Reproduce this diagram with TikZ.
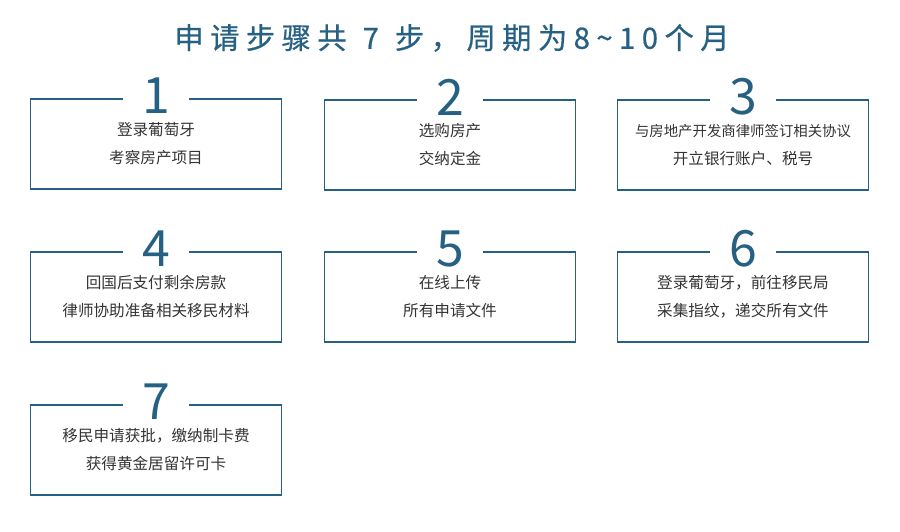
\documentclass[tikz,border=0pt]{standalone}
\usepackage{fontspec}
\setmainfont{Noto Sans CJK SC}
\newfontfamily\cjk{Noto Sans CJK SC}
\newfontfamily\titlefont[LetterSpace=22,FakeBold=0.6]{Noto Sans CJK SC}
\definecolor{mainblue}{RGB}{38,96,130}
\definecolor{txtgray}{RGB}{51,51,51}
\begin{document}
\begin{tikzpicture}[x=1pt,y=-1pt,
  boxline/.style={draw=mainblue,line width=1.8pt},
  numlbl/.style={text=mainblue,font=\fontsize{50}{50}\selectfont\cjk,inner sep=0pt},
  desc/.style={text=txtgray,font=\fontsize{15.6}{28}\selectfont\cjk,align=center,inner sep=0pt}]
\useasboundingbox (0,0) rectangle (900,532);
\node[text=mainblue,font=\fontsize{29.3}{29}\selectfont\titlefont,inner sep=0pt] (title) at (452,38) {申请步骤共\hspace{16pt}7\hspace{16pt}步，周期为8\char"7E\relax 10个月};
\foreach \n/\cx/\cy/\la/\lb in {
  1/156/144/登录葡萄牙/考察房产项目,
  2/450/145/选购房产/交纳定金,
  3/743/145/{\fontsize{14.4}{28}\selectfont 与房地产开发商律师签订相关协议}/开立银行账户、税号,
  4/156/297/回国后支付剩余房款/律师协助准备相关移民材料,
  5/450/297/在线上传/所有申请文件,
  6/743/297/登录葡萄牙，前往移民局/采集指纹，递交所有文件,
  7/156/450/移民申请获批，缴纳制卡费/获得黄金居留许可卡}{
  \coordinate (tl\n) at (\cx-125.5,\cy-45);
  \coordinate (br\n) at (\cx+125.5,\cy+45);
  \coordinate (ga\n) at (\cx-33,\cy-45);
  \coordinate (gb\n) at (\cx+33,\cy-45);
  \draw[boxline] (ga\n) -| (tl\n) |- (br\n) |- (gb\n);
  \node[numlbl] (num\n) at (\cx,\cy-48) {\n};
  \node[desc] (la\n) at (\cx,\cy-14) {\la};
  \node[desc] (lb\n) at (\cx,\cy+14) {\lb};
}
\end{tikzpicture}
\end{document}
